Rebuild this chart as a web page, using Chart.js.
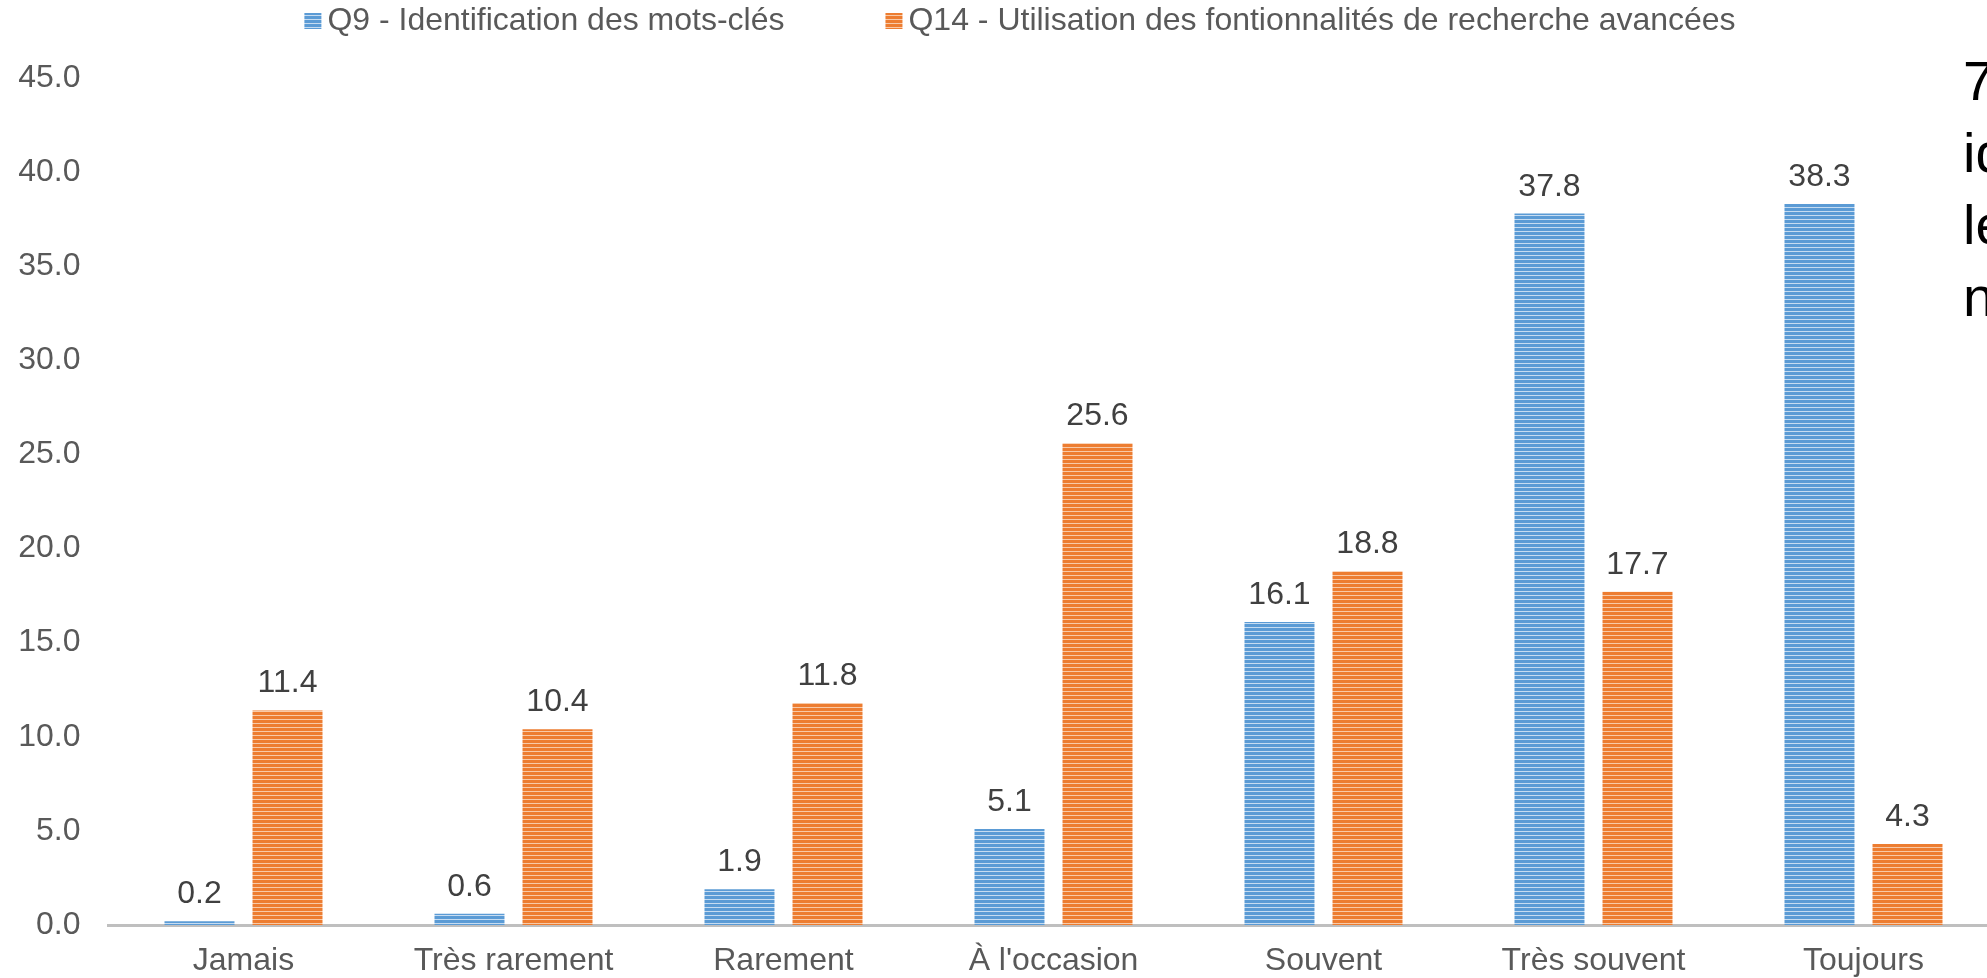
<!DOCTYPE html>
<html>
<head>
<meta charset="utf-8">
<script src="https://cdn.jsdelivr.net/npm/chart.js@4.4.1/dist/chart.umd.min.js"></script>
<style>
html, body { margin: 0; padding: 0; background: #ffffff; overflow: hidden; width: 1987px; height: 978px; }
#wrap { position: absolute; left: 0; top: 0; width: 2010px; height: 978px; }
#side { position: absolute; left: 1963px; top: 45px; font-family: "Liberation Sans", Arial, sans-serif; font-size: 56px; line-height: 72px; color: #000000; white-space: pre; }
</style>
</head>
<body>
<div id="wrap"><canvas id="c" width="2010" height="978"></canvas></div>
<div id="side">7
id
le
n</div>
<script>
// ---- data ----
const categories = ["Jamais", "Très rarement", "Rarement", "À l'occasion", "Souvent", "Très souvent", "Toujours"];
const seriesNames = ["Q9 - Identification des mots-clés", "Q14 - Utilisation des fontionnalités de recherche avancées"];
const q9Values = [0.2, 0.6, 1.9, 5.1, 16.1, 37.8, 38.3];
const q14Values = [11.4, 10.4, 11.8, 25.6, 18.8, 17.7, 4.3];
const yTickMin = 0, yTickMax = 45, yTickStep = 5;

// ---- styles ----
const FONT = '"Liberation Sans", Arial, sans-serif';
const canvas = document.getElementById('c');
const ctx = canvas.getContext('2d');

function stripe(base, light) {
  const p = document.createElement('canvas');
  p.width = 4; p.height = 4;
  const g = p.getContext('2d');
  g.fillStyle = base; g.fillRect(0, 0, 4, 4);
  g.fillStyle = light; g.fillRect(0, 3, 4, 1);
  return ctx.createPattern(p, 'repeat');
}
const bluePat = stripe('#5b9bd5', '#c6dcf1');
const orangePat = stripe('#ed7d31', '#f8caa8');

Chart.defaults.font.family = FONT;

const valueLabels = {
  id: 'valueLabels',
  afterDatasetsDraw(chart) {
    const c = chart.ctx;
    c.save();
    c.font = '32px ' + FONT;
    c.fillStyle = '#404040';
    c.textAlign = 'center';
    c.textBaseline = 'alphabetic';
    chart.data.datasets.forEach((ds, i) => {
      const meta = chart.getDatasetMeta(i);
      meta.data.forEach((bar, j) => {
        c.fillText(ds.data[j].toFixed(1), bar.x, bar.y - 18);
      });
    });
    c.restore();
  }
};

const customLegend = {
  id: 'customLegend',
  afterDraw(chart) {
    const c = chart.ctx;
    c.save();
    c.font = '32px ' + FONT;
    const box = 17, boxH = 16, gapText = 6, gapItem = 101;
    const ds = chart.data.datasets;
    let total = 0;
    ds.forEach((d, i) => { total += box + gapText + c.measureText(d.label).width; if (i) total += gapItem; });
    let x = 1020 - total / 2;
    ds.forEach((d) => {
      c.fillStyle = d.backgroundColor;
      c.fillRect(x, 13, box, boxH);
      x += box + gapText;
      c.fillStyle = '#595959';
      c.textBaseline = 'alphabetic';
      c.textAlign = 'left';
      c.fillText(d.label, x, 30);
      x += c.measureText(d.label).width + gapItem;
    });
    c.restore();
  }
};

new Chart(canvas, {
  type: 'bar',
  data: {
    labels: categories,
    datasets: [
      { label: seriesNames[0], data: q9Values, backgroundColor: bluePat, borderWidth: 0 },
      { label: seriesNames[1], data: q14Values, backgroundColor: orangePat, borderWidth: 0 }
    ]
  },
  options: {
    responsive: false,
    animation: false,
    devicePixelRatio: 1,
    categoryPercentage: 0.652,
    barPercentage: 0.795,
    layout: { padding: { top: 78, right: 11.5, left: 0, bottom: 0 } },
    plugins: { legend: { display: false }, tooltip: { enabled: false } },
    scales: {
      x: {
        grid: { display: false, drawTicks: false },
        border: { display: true, color: '#bfbfbf', width: 3 },
        ticks: { color: '#595959', font: { size: 32 }, padding: 17, maxRotation: 0, autoSkip: false },
        afterFit(s) { s.height = 53; }
      },
      y: {
        min: yTickMin, max: yTickMax,
        grid: { display: false, drawTicks: false },
        border: { display: false },
        ticks: { stepSize: yTickStep, color: '#595959', font: { size: 32 }, padding: 28,
                 callback: (v) => Number(v).toFixed(1) },
        afterFit(s) { s.width = 108.5; }
      }
    }
  },
  plugins: [valueLabels, customLegend]
});
</script>
</body>
</html>
